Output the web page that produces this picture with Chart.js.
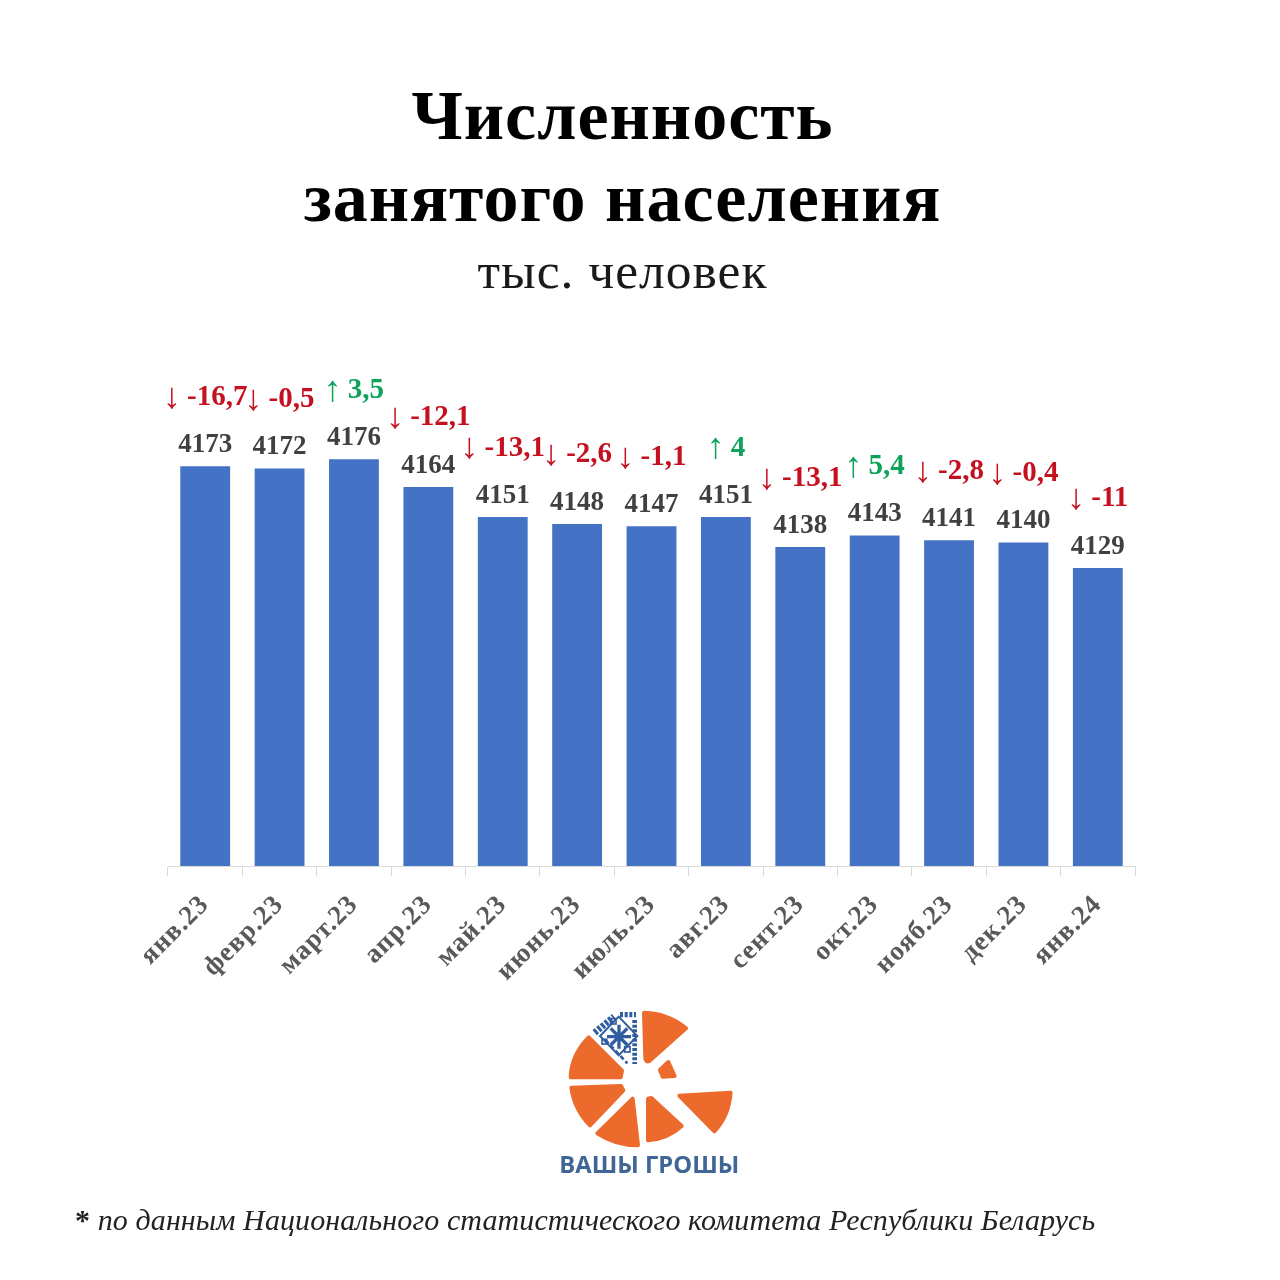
<!DOCTYPE html>
<html lang="ru">
<head>
<meta charset="utf-8">
<title>Численность занятого населения</title>
<script src="https://cdn.jsdelivr.net/npm/chart.js@4"></script>
<style>
    body { margin: 0; background: #fff; }
    #wrap { position: relative; width: 1280px; height: 1280px; overflow: hidden; }
    #logo { position: absolute; left: 540px; top: 1000px; }
    #note {
        position: absolute; left: 75px; top: 1203px; white-space: nowrap;
        font: italic 30px "Liberation Serif", serif; letter-spacing: 0.1px; color: #222;
    }
    #note b { font-style: normal; }
</style>
</head>
<body>
<div id="wrap">
    <canvas id="chart" width="1280" height="1280"></canvas>
    <svg id="logo" width="220" height="190" viewBox="0 0 660 570">
        <g fill="#ec6a2c" stroke="#ec6a2c" stroke-width="12" stroke-linejoin="round">
            <path d="M312 38 Q385 40 438 85 L328 183 Q318 188 316 175 Z"/>
            <path d="M360 210 L385 186 L404 228 L368 230 Z"/>
            <path d="M418 287 L572 278 Q566 350 523 394 Z"/>
            <path d="M146 112 L246 212 L242 232 L92 232 Q94 165 146 112 Z"/>
            <path d="M94 263 L243 258 L250 271 L150 376 Q104 330 94 263 Z"/>
            <path d="M278 296 L294 436 Q226 436 172 400 Z"/>
            <path d="M324 296 L334 294 L425 378 Q384 416 324 421 Z"/>
        </g>
        <g stroke="#2f5c9e" fill="none">
            <path d="M164 98 L222 50" stroke-width="20" stroke-dasharray="9 5"/>
            <path d="M240 44 L288 44" stroke-width="16" stroke-dasharray="9 5"/>
            <path d="M284 60 L284 192" stroke-width="14" stroke-dasharray="9 5"/>
            <path d="M196 120 L262 190" stroke-width="8" stroke-dasharray="14 8"/>
            <path d="M236 50 L292 108 L236 166 L180 108 Z" stroke-width="6"/>
            <path d="M237 74 V146 M201 110 H273 M212 85 L262 135 M262 85 L212 135" stroke-width="10"/>
            <rect x="212" y="56" width="16" height="16" stroke-width="5"/>
            <rect x="254" y="140" width="16" height="16" stroke-width="5"/>
            <rect x="186" y="118" width="14" height="14" stroke-width="5"/>
        </g>
        <text x="328" y="518" text-anchor="middle" textLength="540" lengthAdjust="spacingAndGlyphs"
              font-family="Open Sans, sans-serif" font-weight="700" font-size="70" fill="#3f6696">ВАШЫ ГРОШЫ</text>
    </svg>
    <div id="note"><b>*</b> по данным Национального статистического комитета Республики Беларусь</div>
</div>
<script>
const months = ['янв.23', 'февр.23', 'март.23', 'апр.23', 'май.23', 'июнь.23', 'июль.23', 'авг.23', 'сент.23', 'окт.23', 'нояб.23', 'дек.23', 'янв.24'];
const employed = [4173, 4172, 4176, 4164, 4151, 4148, 4147, 4151, 4138, 4143, 4141, 4140, 4129];
const changes = ['-16,7', '-0,5', '3,5', '-12,1', '-13,1', '-2,6', '-1,1', '4', '-13,1', '5,4', '-2,8', '-0,4', '-11'];

const SERIF = '"Liberation Serif", serif';

// в заголовке и подписях оси буквы чуть разрежены
const wideText = {
    id: 'wideText',
    beforeDraw(chart) {
        chart.ctx.letterSpacing = '1px';
    }
};

// подписи над столбиками: значение и изменение со стрелкой
const barLabels = {
    id: 'barLabels',
    afterDatasetsDraw(chart) {
        const ctx = chart.ctx;
        ctx.letterSpacing = '0px';
        ctx.save();
        ctx.textBaseline = 'middle';
        chart.getDatasetMeta(0).data.forEach((bar, i) => {
            ctx.textAlign = 'center';
            ctx.fillStyle = '#404040';
            ctx.font = 'bold 27px ' + SERIF;
            ctx.fillText(employed[i], bar.x, bar.y - 21);

            const up = !changes[i].startsWith('-');
            const arrow = up ? '↑' : '↓';
            const text = changes[i];
            ctx.fillStyle = up ? '#0ea35a' : '#c5101f';
            ctx.font = '36px ' + SERIF;
            const arrowW = ctx.measureText(arrow).width;
            ctx.font = 'bold 29px ' + SERIF;
            const textW = ctx.measureText(text).width;
            const gap = 6;
            const left = bar.x - (arrowW + gap + textW) / 2;
            ctx.textAlign = 'left';
            ctx.fillText(text, left + arrowW + gap, bar.y - 69);
            ctx.font = '36px ' + SERIF;
            ctx.fillText(arrow, left, bar.y - 68);
        });
        ctx.restore();
    }
};

new Chart(document.getElementById('chart'), {
    type: 'bar',
    data: {
        labels: months,
        datasets: [{
            data: employed,
            backgroundColor: '#4472c4',
            barPercentage: 0.67,
            categoryPercentage: 1
        }]
    },
    options: {
        responsive: false,
        animation: false,
        layout: { padding: { left: 0, right: 35, top: 0, bottom: 0 } },
        plugins: {
            legend: { display: false },
            tooltip: { enabled: false },
            title: {
                display: true,
                text: ['Численность', 'занятого населения'],
                color: '#000',
                font: { family: SERIF, size: 70, weight: 'bold', lineHeight: 1.17 },
                padding: { top: 80, bottom: 0 }
            },
            subtitle: {
                display: true,
                text: 'тыс. человек',
                color: '#1a1a1a',
                font: { family: SERIF, size: 51.5, weight: 'normal', lineHeight: 1.2 },
                padding: { top: 0, bottom: 98.2 }
            }
        },
        scales: {
            x: {
                afterFit(scale) {
                    scale.height = 414;
                    scale.paddingLeft = 0;
                    scale.paddingRight = 0;
                },
                grid: { drawOnChartArea: false, color: '#d9d9d9', tickLength: 10, offset: true },
                border: { color: '#d9d9d9' },
                ticks: {
                    autoSkip: false,
                    minRotation: 45,
                    maxRotation: 45,
                    padding: 13,
                    color: '#595959',
                    font: { family: SERIF, size: 27, weight: 'bold' }
                }
            },
            y: {
                min: 4000,
                max: 4200,
                afterFit(scale) { scale.width = 168; },
                ticks: { display: false },
                grid: { display: false },
                border: { display: false }
            },
            // пустая правая ось только держит поле справа
            yRight: {
                position: 'right',
                afterFit(scale) { scale.width = 110; },
                ticks: { display: false },
                grid: { display: false },
                border: { display: false }
            }
        }
    },
    plugins: [wideText, barLabels]
});
</script>
</body>
</html>
